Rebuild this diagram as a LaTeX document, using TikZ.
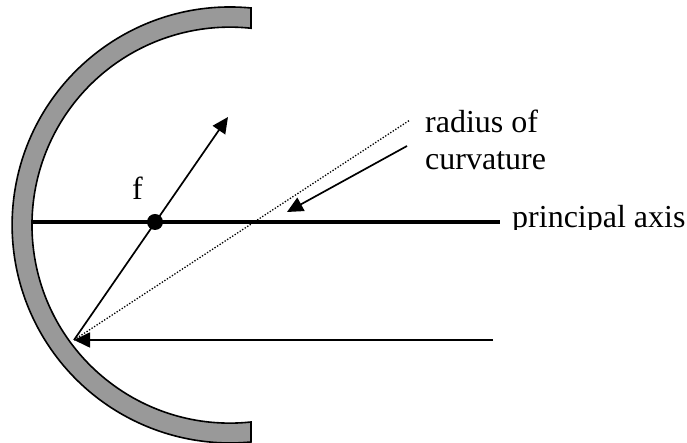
\documentclass[tikz,border=0pt]{standalone}
\usepackage{fontspec}
\setmainfont{Liberation Serif}
\usetikzlibrary{arrows.meta}
\definecolor{mirrorgray}{RGB}{153, 153, 153}
\tikzset{
  lbl/.style={inner sep=0pt, font=\fontsize{32}{37}\selectfont},
  ray/.style={line width=1.7pt},
  tip/.style={-{Triangle[length=16pt,width=15pt]}},
}

\begin{document}
\begin{tikzpicture}[x=1pt,y=1pt]
  \useasboundingbox (0,0) rectangle (687,443);

  % mirror
  \draw[fill=mirrorgray,line width=1.6pt] (251,435) arc (84.5:275.5:218) -- (251,21) arc (276.1:83.9:198) -- cycle;

  \coordinate (hit) at (74,103);
  \coordinate (axL) at (33,221);
  \coordinate (axR) at (500,221);
  \coordinate (focT) at (228,326);
  \coordinate (curvT) at (410,323);
  \coordinate (inR) at (493,103);
  \coordinate (radS) at (407,297);
  \coordinate (radE) at (287,231);

  \draw[line width=3.5pt] (axL) -- (axR);
  \draw[ray,tip] (hit) -- (focT);
  \draw[line width=1.3pt,dash pattern=on 1.3pt off 1.7pt] (hit) -- (curvT);
  \draw[ray,tip] (inR) -- (hit);
  \draw[ray,tip] (radS) -- (radE);
  \fill (155,221) circle (8);

  \node[lbl,anchor=base west] (flbl) at (132,243) {f};
  \node[lbl,anchor=base west] (radlbl) at (425,310) {radius of};
  \node[lbl,anchor=base west] (curvlbl) at (425,273) {curvature};
  \begin{scope}
    \clip (505,213) rectangle (687,260);
    \node[lbl,anchor=base west] (axlbl) at (512,215) {principal axis};
  \end{scope}
\end{tikzpicture}
\end{document}
